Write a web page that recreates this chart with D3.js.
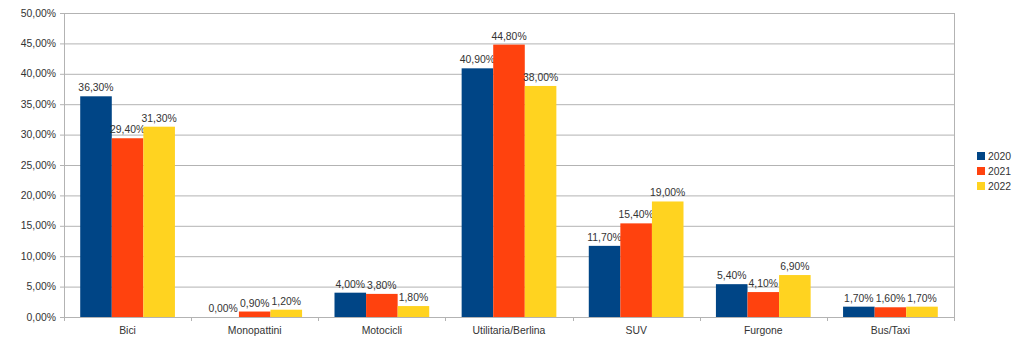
<!DOCTYPE html>
<html><head><meta charset="utf-8">
<script src="https://cdn.jsdelivr.net/npm/d3@7"></script>
<style>body{margin:0;background:#fff}svg{display:block}text{font-family:"Liberation Sans",Arial,sans-serif;fill:#333}</style>
</head><body><svg id="c" width="1022" height="345"></svg>
<script>
const categories = ["Bici","Monopattini","Motocicli","Utilitaria/Berlina","SUV","Furgone","Bus/Taxi"];
const seriesNames = ["2020","2021","2022"];
const v2020 = [36.3, 0.0, 4.0, 40.9, 11.7, 5.4, 1.7];
const v2021 = [29.4, 0.9, 3.8, 44.8, 15.4, 4.1, 1.6];
const v2022 = [31.3, 1.2, 1.8, 38.0, 19.0, 6.9, 1.7];
const colors = ["#004586","#ff420e","#ffd320"];
const yTicks = [0,5,10,15,20,25,30,35,40,45,50];

const series = [v2020, v2021, v2022];
const svg = d3.select("#c");
const L = 64, R = 954, T = 13, B = 317;
const FS = 10.4;
const fmt = v => v.toFixed(2).replace(".", ",") + "%";

const x = d3.scaleBand().domain(categories).range([L, R]).paddingInner(0.255).paddingOuter(0.1275);
const xs = d3.scaleBand().domain(seriesNames).range([0, x.bandwidth()]);
const y = d3.scaleLinear().domain([0, 50]).range([B, T]);

// gridlines
svg.append("g").selectAll("line").data(yTicks).join("line")
  .attr("x1", L - 4).attr("x2", R).attr("y1", d => y(d) + 0.5).attr("y2", d => y(d) + 0.5)
  .attr("stroke", "#b3b3b3").attr("stroke-width", 1);
// y labels
svg.append("g").selectAll("text").data(yTicks).join("text")
  .attr("x", 56).attr("y", d => y(d)).attr("dy", "0.35em").attr("text-anchor", "end")
  .attr("font-size", FS).text(d => fmt(d));
// axes lines
svg.append("line").attr("x1", L + 0.5).attr("x2", L + 0.5).attr("y1", T).attr("y2", B + 4).attr("stroke", "#b3b3b3");
svg.append("line").attr("x1", R + 0.5).attr("x2", R + 0.5).attr("y1", T).attr("y2", B + 4).attr("stroke", "#b3b3b3");
const step = (R - L) / categories.length;
svg.append("g").selectAll("line").data(d3.range(categories.length + 1)).join("line")
  .attr("x1", i => Math.round(L + i * step) + 0.5).attr("x2", i => Math.round(L + i * step) + 0.5)
  .attr("y1", B).attr("y2", B + 4).attr("stroke", "#b3b3b3");

// bars
series.forEach((vals, si) => {
  const g = svg.append("g");
  g.selectAll("rect").data(vals).join("rect")
    .attr("x", (d, i) => x(categories[i]) + xs(seriesNames[si]))
    .attr("width", xs.bandwidth())
    .attr("y", d => y(d)).attr("height", d => y(0) - y(d))
    .attr("fill", colors[si]);
  g.selectAll("text").data(vals).join("text")
    .attr("x", (d, i) => x(categories[i]) + xs(seriesNames[si]) + xs.bandwidth() / 2)
    .attr("y", d => y(d) - 5).attr("text-anchor", "middle").attr("font-size", FS)
    .text(d => fmt(d));
});
// x labels
svg.append("g").selectAll("text").data(categories).join("text")
  .attr("x", d => x(d) + x.bandwidth() / 2).attr("y", 334).attr("text-anchor", "middle")
  .attr("font-size", FS).text(d => d);

// legend
const lg = svg.append("g");
seriesNames.forEach((n, i) => {
  lg.append("rect").attr("x", 977).attr("y", 152 + i * 15).attr("width", 8).attr("height", 8).attr("fill", colors[i]);
  lg.append("text").attr("x", 988).attr("y", 156 + i * 15).attr("dy", "0.35em").attr("font-size", FS).text(n);
});
</script></body></html>
